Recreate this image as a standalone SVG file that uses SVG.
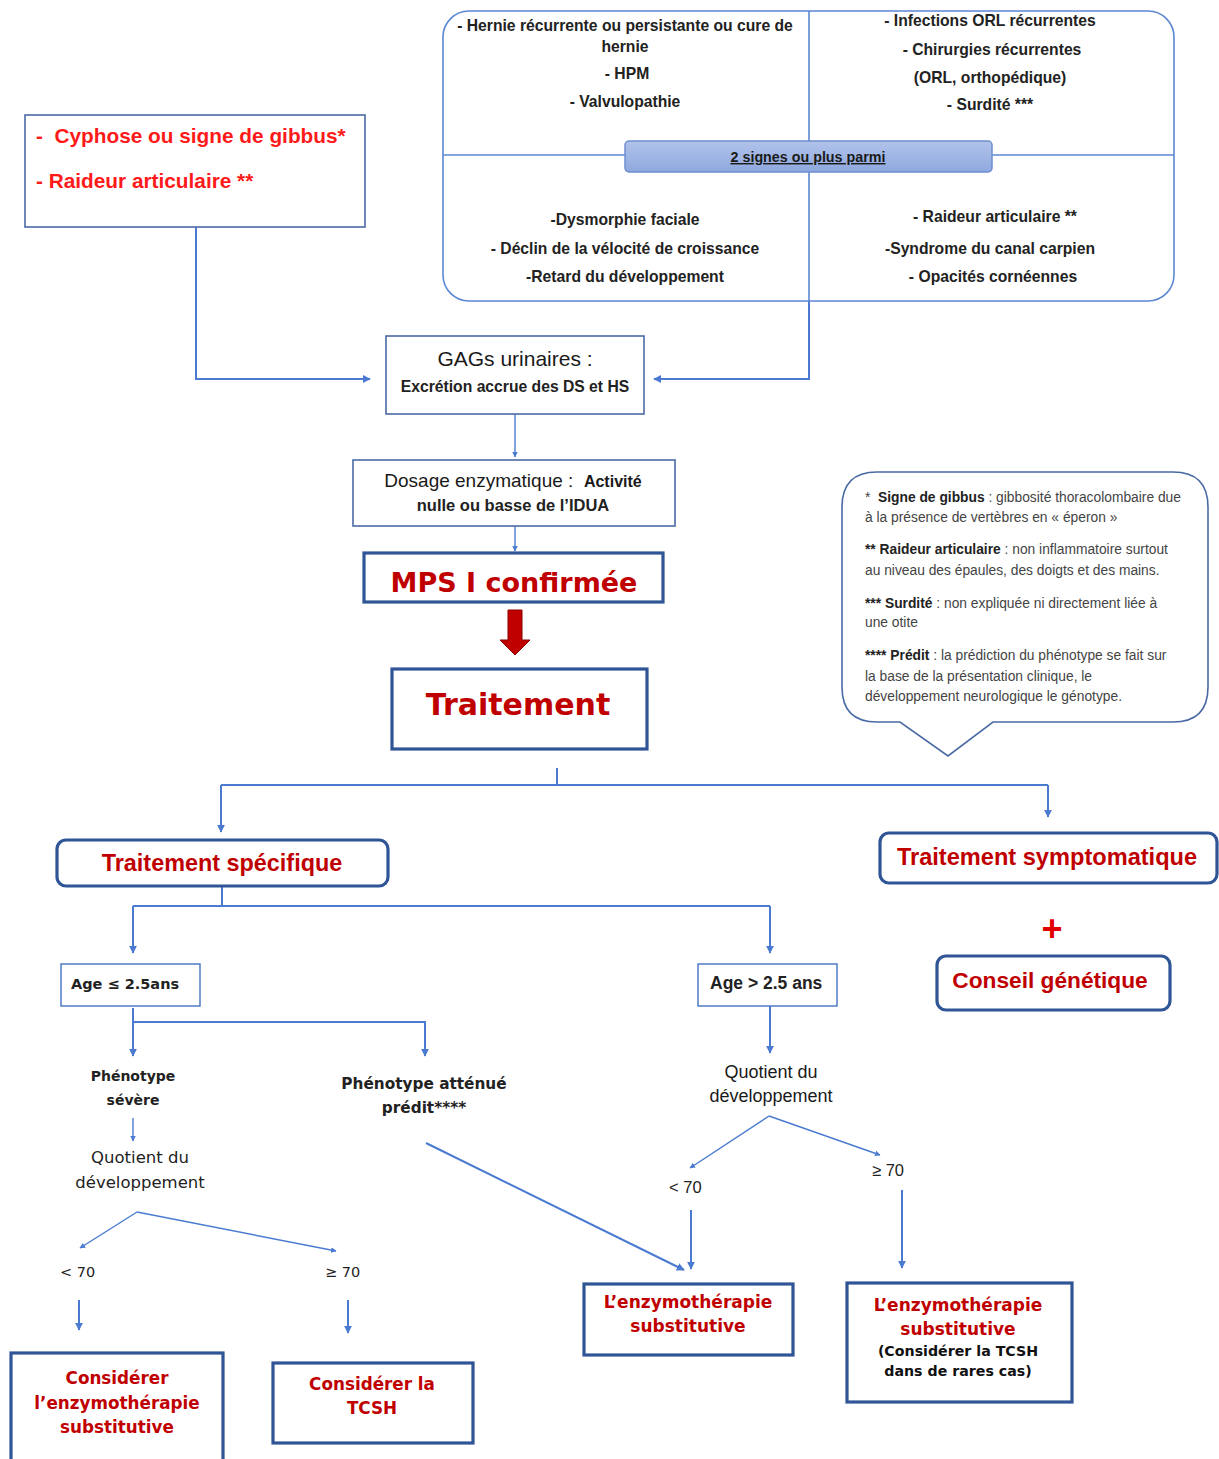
<svg xmlns="http://www.w3.org/2000/svg" width="1219" height="1459" viewBox="0 0 1219 1459">
<style>
.lb{stroke:#5b87d3;stroke-width:1.6;fill:none}
.con{stroke:#4a7bd0;stroke-width:2;fill:none}
.thin{stroke:#4a7bd0;stroke-width:1.4;fill:none}
.box{fill:#fff;stroke:#4a6aa5;stroke-width:1.6}
.sbox{fill:#fff;stroke:#4472c4;stroke-width:1.4}
.bbox{fill:#fff;stroke:#2f5597;stroke-width:3.2}
.t{font-family:"Liberation Sans",Arial,sans-serif;fill:#1a1a1a;text-anchor:middle}
.tb{font-family:"Liberation Sans",Arial,sans-serif;font-weight:bold;font-size:15.7px;fill:#222;text-anchor:middle}
.red{font-family:"Liberation Sans",Arial,sans-serif;font-weight:bold;fill:#c00000;text-anchor:middle}
.vb{font-family:"DejaVu Sans",Verdana,sans-serif;font-weight:bold;font-size:14px;fill:#222;text-anchor:middle}
.vr{font-family:"DejaVu Sans",Verdana,sans-serif;font-size:16.5px;fill:#222;text-anchor:middle}
.blk{font-family:"DejaVu Sans",Verdana,sans-serif;font-weight:bold;fill:#c00000;text-anchor:middle}
.blk2{font-family:"DejaVu Sans",Verdana,sans-serif;font-weight:bold;fill:#111;text-anchor:middle;font-size:14.2px}
.note{font-family:"Liberation Sans",Arial,sans-serif;font-size:13.8px;fill:#444}
.note tspan.b{font-weight:bold;fill:#222}
</style>
<defs>
<marker id="ah" viewBox="0 0 10 10" refX="9" refY="5" markerWidth="4" markerHeight="4" orient="auto-start-reverse">
<path d="M0,0 L10,5 L0,10 z" fill="#4a7bd0"/>
</marker>
<linearGradient id="pill" x1="0" y1="0" x2="0" y2="1">
<stop offset="0" stop-color="#b1c3ea"/>
<stop offset="1" stop-color="#8ea8de"/>
</linearGradient>
</defs>

<g id="connectors">
<path class="con" d="M196,227 V379 H370" marker-end="url(#ah)"/>
<path class="con" d="M809,301 V379 H654" marker-end="url(#ah)"/>
<path class="thin" d="M515,414 V457" marker-end="url(#ah)"/>
<path class="thin" d="M515,526 V551" marker-end="url(#ah)"/>
<path class="con" d="M557,768 V785"/>
<path class="con" d="M221,785 H1048"/>
<path class="con" d="M221,785 V832" marker-end="url(#ah)"/>
<path class="con" d="M1048,785 V817" marker-end="url(#ah)"/>
<path class="con" d="M222,886 V906"/>
<path class="con" d="M133,906 H770"/>
<path class="con" d="M133,906 V953" marker-end="url(#ah)"/>
<path class="con" d="M770,906 V953" marker-end="url(#ah)"/>
<path class="con" d="M133,1008 V1056" marker-end="url(#ah)"/>
<path class="con" d="M133,1022 H425 V1056" marker-end="url(#ah)"/>
<path class="thin" d="M133,1118 V1141" marker-end="url(#ah)"/>
<path class="thin" d="M137,1212 L80,1248" marker-end="url(#ah)"/>
<path class="thin" d="M137,1212 L336,1251" marker-end="url(#ah)"/>
<path class="con" d="M79,1300 V1330" marker-end="url(#ah)"/>
<path class="con" d="M348,1300 V1333" marker-end="url(#ah)"/>
<path class="con" d="M426,1143 L684,1270" marker-end="url(#ah)"/>
<path class="con" d="M770,1006 V1053" marker-end="url(#ah)"/>
<path class="thin" d="M769,1116 L690,1168" marker-end="url(#ah)"/>
<path class="thin" d="M769,1116 L880,1155" marker-end="url(#ah)"/>
<path class="con" d="M691,1210 V1269" marker-end="url(#ah)"/>
<path class="con" d="M902,1190 V1268" marker-end="url(#ah)"/>
<path d="M508,610 H522 V640 H530 L515,655 L500,640 H508 Z" fill="#c00000" stroke="#8b0000" stroke-width="1"/>
</g>

<g id="signs">
<rect x="443" y="11" width="731" height="290" rx="26" fill="#fff" class="lb"/>
<line class="lb" x1="809" y1="11" x2="809" y2="301"/>
<line class="lb" x1="443" y1="155" x2="1174" y2="155"/>
<rect x="625" y="141" width="367" height="31" rx="4" fill="url(#pill)" stroke="#6f8fd0" stroke-width="1.5"/>
<text class="t" x="808" y="162" font-size="14.3px" font-weight="bold" text-decoration="underline" fill="#1f2a44">2 signes ou plus parmi</text>
<text class="tb" x="625" y="31">- Hernie récurrente ou persistante ou cure de</text>
<text class="tb" x="625" y="52">hernie</text>
<text class="tb" x="627" y="79">- HPM</text>
<text class="tb" x="625" y="107">- Valvulopathie</text>
<text class="tb" x="990" y="26">- Infections ORL récurrentes</text>
<text class="tb" x="992" y="55">- Chirurgies récurrentes</text>
<text class="tb" x="990" y="83">(ORL, orthopédique)</text>
<text class="tb" x="990" y="110">- Surdité ***</text>
<text class="tb" x="625" y="225">-Dysmorphie faciale</text>
<text class="tb" x="625" y="254">- Déclin de la vélocité de croissance</text>
<text class="tb" x="625" y="282">-Retard du développement</text>
<text class="tb" x="995" y="222">- Raideur articulaire **</text>
<text class="tb" x="990" y="254">-Syndrome du canal carpien</text>
<text class="tb" x="993" y="282">-  Opacités cornéennes</text>
</g>

<g id="cyphose">
<rect class="box" x="25" y="115" width="340" height="112"/>
<text x="36" y="143" font-family="Liberation Sans,Arial,sans-serif" font-weight="bold" font-size="20.8px" fill="#ff1a1a" xml:space="preserve">-  Cyphose ou signe de gibbus*</text>
<text x="36" y="188" font-family="Liberation Sans,Arial,sans-serif" font-weight="bold" font-size="20.8px" fill="#ff1a1a">- Raideur articulaire **</text>
</g>

<g id="gags">
<rect class="box" x="386" y="336" width="258" height="78"/>
<text class="t" x="515" y="366" font-size="21px">GAGs urinaires :</text>
<text class="tb" x="515" y="392" font-size="15.7px" style="font-size:15.7px">Excrétion accrue des DS et HS</text>
</g>

<g id="dosage">
<rect class="box" x="353" y="460" width="322" height="66"/>
<text class="t" x="513" y="487" font-size="19px" xml:space="preserve">Dosage enzymatique :  <tspan font-weight="bold" font-size="16px">Activité</tspan></text>
<text class="tb" x="513" y="511" style="font-size:16.5px">nulle ou basse de l’IDUA</text>
</g>

<g id="mps">
<rect class="bbox" x="364" y="553" width="299" height="49"/>
<text class="blk" x="514" y="592" font-size="27px">MPS I confirmée</text>
</g>

<g id="traitement">
<rect class="bbox" x="392" y="669" width="255" height="80" stroke-width="3.6"/>
<text class="blk" x="518" y="715" font-size="30px">Traitement</text>
</g>

<g id="note">
<path d="M877,472 H1173 Q1208,472 1208,507 V687 Q1208,722 1173,722 H993 L948,756 L900,722 H877 Q842,722 842,687 V507 Q842,472 877,472 Z" fill="#fff" stroke="#4a6aa5" stroke-width="1.6"/>
<text class="note" x="865" y="502" xml:space="preserve">*  <tspan class="b">Signe de gibbus</tspan> : gibbosité thoracolombaire due</text>
<text class="note" x="865" y="522">à la présence de vertèbres en « éperon »</text>
<text class="note" x="865" y="554"><tspan class="b">** Raideur articulaire</tspan> : non inflammatoire surtout</text>
<text class="note" x="865" y="575">au niveau des épaules, des doigts et des mains.</text>
<text class="note" x="865" y="608"><tspan class="b">*** Surdité</tspan> : non expliquée ni directement liée à</text>
<text class="note" x="865" y="627">une otite</text>
<text class="note" x="865" y="660"><tspan class="b">**** Prédit</tspan> : la prédiction du phénotype se fait sur</text>
<text class="note" x="865" y="681">la base de la présentation clinique, le</text>
<text class="note" x="865" y="701">développement neurologique le génotype.</text>
</g>

<g id="specifique">
<rect class="bbox" x="57" y="840" width="331" height="46" rx="9"/>
<text class="red" x="222" y="871" font-size="23.4px">Traitement spécifique</text>
</g>

<g id="symptomatique">
<rect class="bbox" x="880" y="833" width="337" height="50" rx="9"/>
<text class="red" x="1047" y="865" font-size="23.6px">Traitement symptomatique</text>
</g>

<g id="plus">
<text class="red" x="1052" y="941" font-size="36px" style="fill:#e00000">+</text>
</g>

<g id="conseil">
<rect class="bbox" x="937" y="956" width="233" height="54" rx="9"/>
<text class="red" x="1050" y="988" font-size="22.7px">Conseil génétique</text>
</g>

<g id="age-low">
<rect class="sbox" x="61" y="964" width="139" height="42"/>
<text x="71" y="989" font-family="DejaVu Sans,Verdana,sans-serif" font-size="14.5px" font-weight="bold" fill="#222">Age ≤ 2.5ans</text>
</g>

<g id="age-high">
<rect class="sbox" x="698" y="964" width="139" height="42"/>
<text x="710" y="989" font-family="Liberation Sans,Arial,sans-serif" font-size="17.5px" font-weight="bold" fill="#222">Age &gt; 2.5 ans</text>
</g>

<g id="pheno-severe">
<text class="vb" x="133" y="1081">Phénotype</text>
<text class="vb" x="133" y="1105">sévère</text>
</g>

<g id="pheno-attenue">
<text class="vb" x="424" y="1089" style="font-size:15.3px">Phénotype atténué</text>
<text class="vb" x="424" y="1113" style="font-size:15.3px">prédit****</text>
</g>

<g id="qd-left">
<text class="vr" x="140" y="1163">Quotient du</text>
<text class="vr" x="140" y="1188">développement</text>
</g>

<g id="lt70-left"><text x="60" y="1277" font-family="DejaVu Sans,Verdana,sans-serif" font-size="14.5px" fill="#222">&lt; 70</text></g>
<g id="ge70-left"><text x="325" y="1277" font-family="DejaVu Sans,Verdana,sans-serif" font-size="14.5px" fill="#222">≥ 70</text></g>

<g id="consider-ert">
<rect class="bbox" x="11" y="1353" width="212" height="112"/>
<text class="blk" x="117" y="1384" font-size="16.8px">Considérer</text>
<text class="blk" x="117" y="1409" font-size="16.8px">l’enzymothérapie</text>
<text class="blk" x="117" y="1433" font-size="16.8px">substitutive</text>
</g>

<g id="consider-tcsh">
<rect class="bbox" x="273" y="1363" width="200" height="80"/>
<text class="blk" x="372" y="1390" font-size="16.8px">Considérer la</text>
<text class="blk" x="372" y="1414" font-size="16.8px">TCSH</text>
</g>

<g id="qd-right">
<text class="t" x="771" y="1078" font-size="18px">Quotient du</text>
<text class="t" x="771" y="1102" font-size="18px">développement</text>
</g>

<g id="lt70-right"><text x="669" y="1193" font-family="Liberation Sans,Arial,sans-serif" font-size="16.5px" fill="#222">&lt; 70</text></g>
<g id="ge70-right"><text x="872" y="1176" font-family="Liberation Sans,Arial,sans-serif" font-size="16.5px" fill="#222">≥ 70</text></g>

<g id="ert">
<rect class="bbox" x="584" y="1284" width="209" height="71"/>
<text class="blk" x="688" y="1308" font-size="17px">L’enzymothérapie</text>
<text class="blk" x="688" y="1332" font-size="17px">substitutive</text>
</g>

<g id="ert-tcsh">
<rect class="bbox" x="847" y="1283" width="225" height="119"/>
<text class="blk" x="958" y="1311" font-size="17px">L’enzymothérapie</text>
<text class="blk" x="958" y="1335" font-size="17px">substitutive</text>
<text class="blk2" x="958" y="1356">(Considérer la TCSH</text>
<text class="blk2" x="958" y="1376">dans de rares cas)</text>
</g>
</svg>
